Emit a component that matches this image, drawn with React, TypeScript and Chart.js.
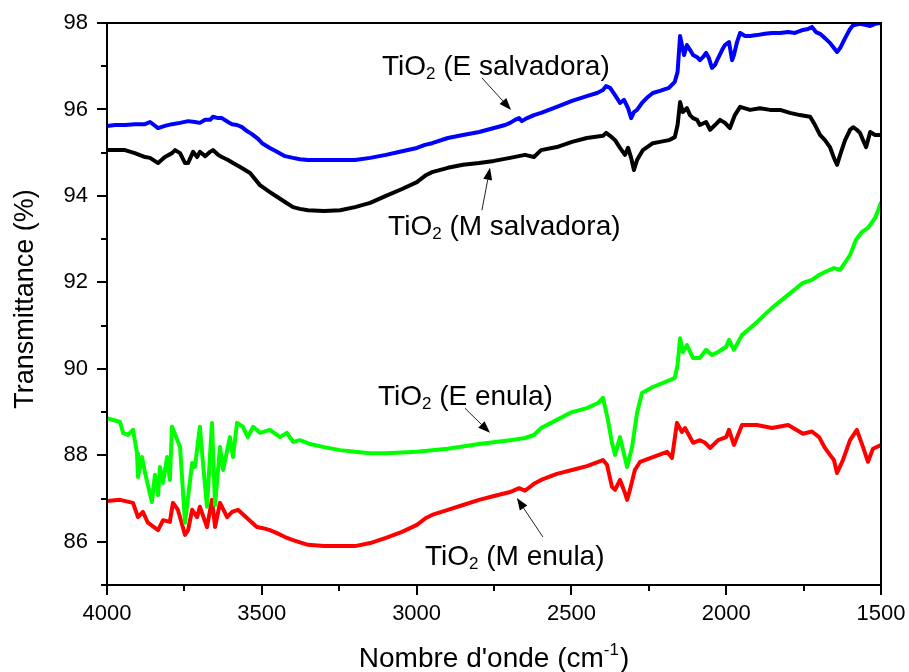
import React, { useEffect, useRef } from 'react';
import { Chart, registerables } from 'chart.js';

Chart.register(...registerables);

const FONT = '"Liberation Sans", Arial, Helvetica, sans-serif';

// ---- Data (wavenumber in cm-1, transmittance in %) ----
const wnESalvadora = [4000,3974,3942,3910,3877,3861,3835,3813,3790,3764,3738,3716,3700,3683,3667,3658,3641,3629,3609,3596,3580,3564,3548,3532,3512,3499,3474,3451,3425,3399,3377,3351,3299,3247,3199,3150,3099,3054,2999,2973,2950,2899,2850,2798,2750,2714,2698,2682,2669,2660,2643,2621,2598,2547,2498,2450,2417,2398,2388,2375,2359,2343,2330,2317,2307,2298,2288,2272,2256,2237,2214,2185,2166,2157,2149,2143,2136,2127,2117,2107,2094,2085,2075,2065,2056,2046,2036,2026,2013,2004,1991,1981,1975,1965,1955,1939,1923,1901,1875,1852,1826,1800,1778,1752,1736,1723,1710,1697,1681,1665,1652,1642,1632,1616,1600,1590,1568,1548,1535,1519,1500];
const tESalvadora = [95.62,95.64,95.64,95.66,95.66,95.71,95.57,95.62,95.66,95.69,95.73,95.71,95.69,95.76,95.76,95.83,95.80,95.80,95.71,95.66,95.64,95.59,95.50,95.43,95.32,95.22,95.11,95.02,94.92,94.88,94.85,94.83,94.83,94.83,94.83,94.88,94.95,95.02,95.11,95.18,95.22,95.34,95.41,95.48,95.57,95.64,95.69,95.76,95.80,95.73,95.80,95.87,95.92,96.06,96.20,96.31,96.38,96.45,96.54,96.50,96.33,96.15,96.22,96.03,95.80,95.94,95.99,96.15,96.27,96.38,96.43,96.50,96.64,96.87,97.70,97.49,97.26,97.49,97.38,97.26,97.21,97.14,97.21,97.31,97.19,96.96,97.03,97.19,97.38,97.49,97.56,97.14,97.26,97.56,97.77,97.70,97.70,97.72,97.75,97.77,97.77,97.79,97.77,97.84,97.86,97.91,97.79,97.75,97.65,97.54,97.42,97.33,97.42,97.65,97.86,97.95,97.98,97.95,97.93,97.98,98.00];

const wnMSalvadora = [4000,3974,3942,3910,3877,3861,3835,3813,3790,3780,3764,3748,3738,3722,3709,3700,3683,3667,3658,3641,3629,3609,3593,3570,3538,3506,3474,3451,3425,3399,3377,3351,3299,3247,3199,3150,3099,3047,2999,2970,2950,2899,2850,2798,2750,2698,2650,2621,2598,2547,2498,2450,2398,2388,2375,2359,2343,2327,2317,2307,2298,2288,2269,2237,2214,2185,2166,2157,2149,2140,2127,2117,2107,2094,2085,2065,2052,2036,2020,2004,1988,1972,1955,1923,1891,1858,1826,1794,1762,1729,1713,1697,1681,1665,1652,1642,1632,1616,1600,1590,1578,1568,1558,1548,1535,1519,1500];
const tMSalvadora = [95.06,95.06,95.06,94.99,94.90,94.88,94.76,94.90,94.99,95.06,94.99,94.76,94.76,95.02,94.90,95.02,94.92,95.02,95.06,94.95,94.90,94.83,94.76,94.67,94.53,94.25,94.09,93.98,93.86,93.74,93.70,93.67,93.65,93.67,93.74,93.84,94.00,94.16,94.32,94.48,94.55,94.65,94.72,94.76,94.81,94.88,94.95,94.90,95.06,95.13,95.25,95.34,95.39,95.46,95.39,95.29,95.11,94.95,95.11,94.88,94.60,94.83,95.06,95.22,95.25,95.29,95.36,95.64,96.17,95.94,96.03,95.87,95.80,95.76,95.64,95.71,95.53,95.64,95.76,95.69,95.57,95.87,96.06,95.99,96.03,95.99,95.99,95.92,95.87,95.83,95.64,95.41,95.29,95.13,94.88,94.72,94.95,95.29,95.53,95.59,95.53,95.46,95.29,95.13,95.48,95.41,95.41];

const wnEEnula = [4000,3958,3948,3932,3916,3903,3900,3887,3877,3855,3845,3835,3829,3819,3806,3797,3790,3764,3748,3725,3716,3700,3690,3677,3661,3651,3635,3625,3603,3593,3580,3561,3545,3528,3506,3474,3441,3419,3399,3377,3344,3299,3247,3199,3150,3099,2999,2899,2798,2698,2650,2621,2598,2547,2498,2450,2414,2398,2382,2369,2359,2343,2320,2304,2288,2272,2237,2182,2166,2157,2149,2140,2127,2107,2085,2065,2046,2026,2000,1991,1975,1949,1901,1852,1800,1752,1723,1700,1681,1652,1632,1600,1581,1561,1542,1519,1500];
const tEEnula = [88.86,88.77,88.52,88.47,88.59,88.05,87.50,87.96,87.59,86.92,87.55,87.08,87.73,87.36,87.96,87.43,88.66,88.19,86.44,87.82,87.73,88.66,87.82,86.81,88.75,86.85,88.19,87.66,88.42,87.96,88.75,88.66,88.42,88.66,88.52,88.59,88.42,88.52,88.31,88.35,88.26,88.19,88.12,88.08,88.05,88.05,88.08,88.15,88.26,88.35,88.40,88.47,88.63,88.82,89.00,89.09,89.21,89.33,88.82,88.29,88.01,88.42,87.73,88.19,88.98,89.44,89.58,89.74,89.79,90.09,90.71,90.39,90.55,90.25,90.25,90.44,90.32,90.39,90.51,90.67,90.44,90.78,91.08,91.41,91.71,91.99,92.06,92.17,92.24,92.33,92.29,92.63,92.98,93.17,93.26,93.49,93.84];

const wnMEnula = [4000,3958,3916,3900,3884,3868,3835,3819,3797,3787,3771,3748,3738,3725,3709,3700,3677,3661,3651,3635,3612,3596,3577,3548,3516,3499,3474,3451,3425,3399,3351,3299,3247,3199,3150,3099,3047,2999,2970,2950,2899,2850,2798,2750,2698,2669,2650,2621,2598,2547,2498,2450,2398,2385,2369,2359,2343,2327,2320,2311,2295,2278,2237,2191,2175,2159,2143,2133,2107,2085,2068,2052,2026,2000,1991,1975,1949,1901,1852,1800,1752,1723,1700,1681,1665,1652,1642,1623,1600,1578,1558,1542,1526,1500];
const tMEnula = [86.94,86.97,86.90,86.57,86.69,86.44,86.27,86.50,86.46,86.90,86.74,86.16,86.27,86.74,86.57,86.81,86.34,86.97,86.34,86.90,86.57,86.69,86.74,86.55,86.34,86.32,86.27,86.20,86.11,86.04,85.93,85.90,85.90,85.90,85.97,86.09,86.23,86.39,86.55,86.62,86.74,86.85,86.97,87.06,87.15,87.24,87.18,87.34,87.43,87.57,87.66,87.75,87.89,87.78,87.27,87.20,87.43,87.13,86.97,87.20,87.66,87.85,87.96,88.08,87.94,88.75,88.54,88.63,88.29,88.35,88.29,88.17,88.35,88.42,88.59,88.24,88.70,88.70,88.63,88.70,88.50,88.55,88.42,88.17,88.01,87.89,87.59,87.89,88.35,88.59,88.19,87.85,88.15,88.24];

const xMajorTicks = [4000, 3500, 3000, 2500, 2000, 1500];
const xMinorTicks = [3750, 3250, 2750, 2250, 1750];
const yMajorTicks = [86, 88, 90, 92, 94, 96, 98];
const yMinorTicks = [85, 87, 89, 91, 93, 95, 97];

const seriesNames = ['TiO2 (E salvadora)', 'TiO2 (M salvadora)', 'TiO2 (E enula)', 'TiO2 (M enula)'];

// annotation labels: suffix, text anchor (wn, T), arrow tail (wn, T), arrow head (wn, T)
const annotationLabels = [' (E salvadora)', ' (M salvadora)', ' (E enula)', ' (M enula)'];
const annotationText = [[3112, 96.80], [3092, 93.10], [3125, 89.16], [2973, 85.46]];
const annotationTail = [[2789, 96.73], [2789, 93.67], [2844, 89.09], [2592, 86.11]];
const annotationHead = [[2695, 95.99], [2763, 94.65], [2763, 88.52], [2676, 87.01]];

const toPoints = (xs: number[], ys: number[]) => xs.map((x, i) => ({ x, y: ys[i] }));

const decorPlugin = {
  id: 'decor',
  afterDraw(chart: any) {
    const { ctx, chartArea: a, scales } = chart;
    const x = scales.x;
    const y = scales.y;
    ctx.save();
    ctx.strokeStyle = '#000';
    ctx.lineWidth = 2;
    ctx.lineCap = 'butt';
    ctx.strokeRect(a.left, a.top, a.right - a.left, a.bottom - a.top);

    ctx.beginPath();
    xMajorTicks.forEach((v) => {
      const p = Math.round(x.getPixelForValue(v));
      ctx.moveTo(p, a.bottom);
      ctx.lineTo(p, a.bottom + 10);
    });
    xMinorTicks.forEach((v) => {
      const p = Math.round(x.getPixelForValue(v));
      ctx.moveTo(p, a.bottom);
      ctx.lineTo(p, a.bottom + 6);
    });
    yMajorTicks.forEach((v) => {
      const p = Math.round(y.getPixelForValue(v));
      ctx.moveTo(a.left - 10, p);
      ctx.lineTo(a.left, p);
    });
    yMinorTicks.forEach((v) => {
      const p = Math.round(y.getPixelForValue(v));
      ctx.moveTo(a.left - 6, p);
      ctx.lineTo(a.left, p);
    });
    ctx.stroke();

    ctx.fillStyle = '#000';
    ctx.textBaseline = 'alphabetic';
    ctx.textAlign = 'left';

    const big = `28px ${FONT}`;
    const small = `17px ${FONT}`;

    // x title with superscript
    const t1 = "Nombre d'onde (cm";
    const t2 = '-1';
    const t3 = ')';
    ctx.font = big;
    const w1 = ctx.measureText(t1).width;
    const w3 = ctx.measureText(t3).width;
    ctx.font = small;
    const w2 = ctx.measureText(t2).width;
    const total = w1 + w2 + w3 + 1;
    let sx = (a.left + a.right) / 2 - total / 2;
    const by = chart.height - 5;
    ctx.font = big;
    ctx.fillText(t1, sx, by);
    sx += w1;
    ctx.font = small;
    ctx.fillText(t2, sx, by - 12);
    sx += w2 + 1;
    ctx.font = big;
    ctx.fillText(t3, sx, by);

    // y title
    ctx.save();
    ctx.translate(33, (a.top + a.bottom) / 2 - 5);
    ctx.rotate(-Math.PI / 2);
    ctx.font = `27px ${FONT}`;
    ctx.textAlign = 'center';
    ctx.fillText('Transmittance (%)', 0, 0);
    ctx.restore();

    // annotations
    annotationLabels.forEach((label, i) => {
      const tx = x.getPixelForValue(annotationText[i][0]);
      const ty = y.getPixelForValue(annotationText[i][1]);
      ctx.textAlign = 'left';
      ctx.fillStyle = '#000';
      ctx.font = big;
      ctx.fillText('TiO', tx, ty);
      let cx = tx + ctx.measureText('TiO').width;
      ctx.font = small;
      ctx.fillText('2', cx, ty + 4);
      cx += ctx.measureText('2').width;
      ctx.font = big;
      ctx.fillText(label, cx, ty);

      const x0 = x.getPixelForValue(annotationTail[i][0]);
      const y0 = y.getPixelForValue(annotationTail[i][1]);
      const x1 = x.getPixelForValue(annotationHead[i][0]);
      const y1 = y.getPixelForValue(annotationHead[i][1]);
      const ang = Math.atan2(y1 - y0, x1 - x0);
      const hl = 12;
      const hw = 4.5;
      const bx = x1 - hl * Math.cos(ang);
      const byy = y1 - hl * Math.sin(ang);
      ctx.strokeStyle = '#222';
      ctx.lineWidth = 1;
      ctx.beginPath();
      ctx.moveTo(x0, y0);
      ctx.lineTo(bx, byy);
      ctx.stroke();
      ctx.beginPath();
      ctx.moveTo(x1, y1);
      ctx.lineTo(bx + hw * Math.sin(ang), byy - hw * Math.cos(ang));
      ctx.lineTo(bx - hw * Math.sin(ang), byy + hw * Math.cos(ang));
      ctx.closePath();
      ctx.fill();
    });
    ctx.restore();
  },
};

export default function App() {
  const ref = useRef<HTMLCanvasElement | null>(null);

  useEffect(() => {
    document.body.style.margin = '0';
    const canvas = ref.current;
    if (!canvas) return;
    const mk = (label: string, xs: number[], ys: number[], color: string) => ({
      label,
      data: toPoints(xs, ys),
      borderColor: color,
      backgroundColor: color,
      borderWidth: 4,
      pointRadius: 0,
      tension: 0,
      borderJoinStyle: 'round' as const,
      borderCapStyle: 'round' as const,
    });
    const chart = new Chart(canvas, {
      type: 'line',
      data: {
        datasets: [
          mk(seriesNames[0], wnESalvadora, tESalvadora, '#0000FF'),
          mk(seriesNames[1], wnMSalvadora, tMSalvadora, '#000000'),
          mk(seriesNames[2], wnEEnula, tEEnula, '#00FF00'),
          mk(seriesNames[3], wnMEnula, tMEnula, '#FF0000'),
        ],
      },
      options: {
        animation: false,
        responsive: false,
        devicePixelRatio: 1,
        layout: { padding: { top: 23, right: 28, left: 0, bottom: 0 } },
        plugins: { legend: { display: false }, tooltip: { enabled: false } },
        scales: {
          x: {
            type: 'linear',
            reverse: true,
            min: 1500,
            max: 4000,
            afterBuildTicks: (s: any) => {
              s.ticks = xMajorTicks.map((v) => ({ value: v }));
            },
            afterFit: (s: any) => {
              s.height = 87;
              s.paddingLeft = 0;
              s.paddingRight = 0;
              s.paddingTop = 0;
              s.paddingBottom = 0;
            },
            ticks: {
              autoSkip: false,
              maxRotation: 0,
              padding: 16,
              color: '#000',
              font: { family: FONT, size: 22 },
              callback: (v: any) => String(v),
            },
            grid: { display: false, drawTicks: false },
            border: { display: false },
          },
          y: {
            type: 'linear',
            min: 85,
            max: 98,
            afterBuildTicks: (s: any) => {
              s.ticks = yMajorTicks.map((v) => ({ value: v }));
            },
            afterFit: (s: any) => {
              s.width = 107;
              s.paddingLeft = 0;
              s.paddingRight = 0;
              s.paddingTop = 0;
              s.paddingBottom = 0;
            },
            ticks: {
              padding: 19,
              color: '#000',
              font: { family: FONT, size: 22 },
              callback: (v: any) => String(v),
            },
            grid: { display: false, drawTicks: false },
            border: { display: false },
          },
        },
      },
      plugins: [decorPlugin],
    });
    return () => chart.destroy();
  }, []);

  return (
    <div style={{ width: 909, height: 672 }}>
      <canvas ref={ref} width={909} height={672} style={{ display: 'block' }} />
    </div>
  );
}
